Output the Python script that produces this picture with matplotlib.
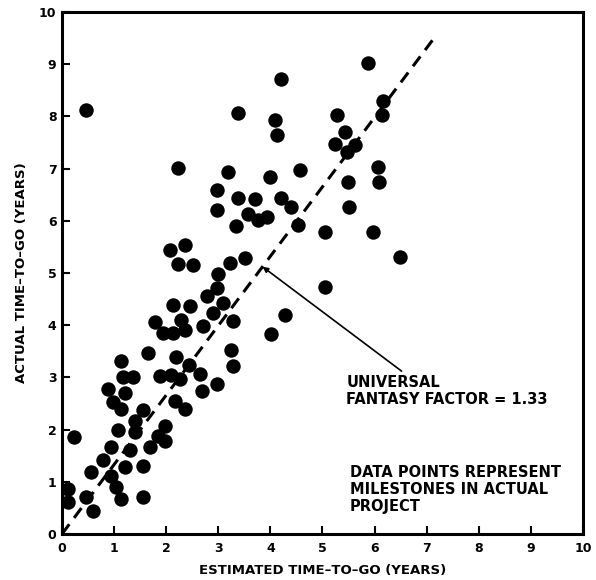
import numpy as np
import matplotlib.pyplot as plt

# milestone estimates vs. actual time-to-go (years)
estimated = [
    0.24, 1.08, 1.40, 1.40, 1.98, 1.85, 1.98, 1.69, 1.30, 0.95,
    0.79, 1.21, 1.56, 0.56, 0.95, 1.04, 1.14, 1.56, 0.12, 0.12,
    0.47, 0.60, 1.56, 0.98, 1.13, 0.88, 1.21, 1.17, 1.37, 1.13,
    1.65, 2.19, 2.44, 2.65, 1.88, 2.09, 2.26, 2.97, 2.68, 2.17,
    2.36, 3.24, 3.29, 1.78, 2.29, 1.94, 2.13, 2.36, 2.71, 3.29,
    2.13, 2.46, 2.97, 2.78, 3.10, 2.90, 3.00, 3.23, 3.51, 2.08,
    2.36, 2.23, 2.52, 2.23, 3.18, 3.99, 4.57, 2.97, 3.38, 3.71,
    4.21, 4.40, 2.98, 3.58, 3.77, 3.93, 3.35, 4.53, 5.05, 5.04,
    4.28, 4.01, 5.88, 4.21, 6.17, 6.15, 5.28, 4.09, 4.13, 5.44,
    5.24, 5.47, 5.63, 6.06, 6.08, 5.50, 5.51, 5.97, 6.48, 0.47,
    3.37,
]
actual = [
    1.85, 1.99, 2.17, 1.95, 2.07, 1.88, 1.79, 1.66, 1.60, 1.66,
    1.41, 1.29, 1.31, 1.18, 1.12, 0.90, 0.67, 0.71, 0.86, 0.61,
    0.71, 0.45, 2.37, 2.52, 2.39, 2.77, 2.71, 3.00, 3.00, 3.32,
    3.47, 3.40, 3.23, 3.06, 3.03, 3.04, 2.96, 2.87, 2.74, 2.54,
    2.39, 3.52, 3.22, 4.06, 4.10, 3.85, 3.85, 3.91, 3.98, 4.08,
    4.38, 4.36, 4.71, 4.56, 4.43, 4.24, 4.98, 5.19, 5.29, 5.44,
    5.53, 5.17, 5.16, 7.02, 6.93, 6.83, 6.97, 6.59, 6.44, 6.41,
    6.44, 6.27, 6.21, 6.13, 6.02, 6.08, 5.91, 5.92, 5.78, 4.73,
    4.20, 3.84, 9.02, 8.71, 8.29, 8.02, 8.03, 7.94, 7.64, 7.70,
    7.48, 7.32, 7.45, 7.04, 6.74, 6.75, 6.27, 5.78, 5.31, 8.12,
    8.07,
]

FANTASY_FACTOR = 1.33
ticks = list(range(0, 11))

plt.rcParams['font.family'] = ['DejaVu Sans']
plt.rcParams['font.weight'] = 'bold'

fig = plt.figure(figsize=(5.96, 5.80), dpi=100)
ax = fig.add_axes([0.104, 0.0793, 0.874, 0.9])

ax.scatter(estimated, actual, s=108, color='black', linewidths=0, zorder=3)

# fantasy factor line
fx = np.array([0.0, 7.2])
ax.plot(fx, FANTASY_FACTOR * fx, color='black', lw=2.2,
        linestyle=(0, (4, 2.6)), zorder=2)

ax.set_xlim(0, 10)
ax.set_ylim(0, 10)
ax.set_xticks(ticks)
ax.set_yticks(ticks)
ax.tick_params(direction='in', length=5.5, width=1.5, labelsize=9,
               pad=6)
ax.tick_params(axis='y', pad=4)
for lab in ax.get_xticklabels() + ax.get_yticklabels():
    lab.set_fontweight('bold')
for sp in ax.spines.values():
    sp.set_linewidth(2.2)

ax.set_xlabel('ESTIMATED TIME\u2013TO\u2013GO (YEARS)', fontsize=9.5,
              fontweight='bold', labelpad=6)
ax.set_ylabel('ACTUAL TIME\u2013TO\u2013GO (YEARS)', fontsize=9.5,
              fontweight='bold', labelpad=8)

tip_x = 3.85
ax.annotate('', xy=(tip_x, FANTASY_FACTOR * tip_x), xytext=(6.52, 3.12),
            arrowprops=dict(arrowstyle='-|>', color='black', lw=1.2,
                            mutation_scale=8, shrinkA=0, shrinkB=0))
ax.text(5.46, 3.05, 'UNIVERSAL\nFANTASY FACTOR = 1.33', fontsize=10.5,
        fontweight='bold', va='top', ha='left', linespacing=1.2)
ax.text(5.53, 1.33, 'DATA POINTS REPRESENT\nMILESTONES IN ACTUAL\nPROJECT',
        fontsize=10.5, fontweight='bold', va='top', ha='left', linespacing=1.2)

fig.savefig('out.png', dpi=100)
